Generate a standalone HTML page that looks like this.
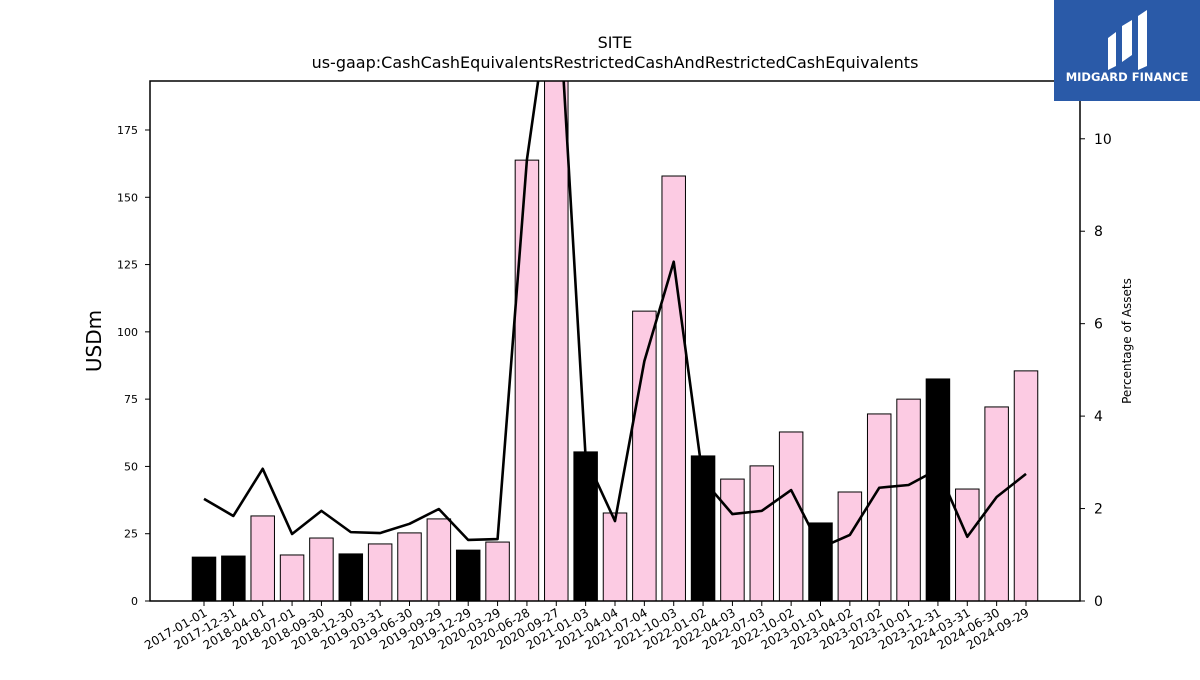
<!DOCTYPE html>
<html><head><meta charset="utf-8"><style>
body{margin:0;background:#fff;width:1200px;height:675px;overflow:hidden;font-family:"Liberation Sans","DejaVu Sans",sans-serif}
</style></head><body>
<svg id="chart" width="1200" height="675" xmlns="http://www.w3.org/2000/svg" font-family="DejaVu Sans, Liberation Sans, sans-serif">
<text x="615" y="48" text-anchor="middle" font-size="16">SITE</text>
<text x="615" y="68" text-anchor="middle" font-size="16">us-gaap:CashCashEquivalentsRestrictedCashAndRestrictedCashEquivalents</text>
<g id="plot"></g>
<rect x="150" y="81" width="930" height="520" fill="none" stroke="#000" stroke-width="1.5"/>
<text transform="translate(101,341) rotate(-90)" text-anchor="middle" font-size="20">USDm</text>
<text transform="translate(1131,341) rotate(-90)" text-anchor="middle" font-size="12">Percentage of Assets</text>
<g>
<rect x="1054" y="0" width="146" height="101" fill="#2a5aa8"/>
<path d="M1108 38 L1116 32 L1116 66 L1108 70 Z M1122 26 L1132 20 L1132 55 L1122 62 Z M1138 16 L1147 10 L1147 66 L1138 70 Z" fill="#fff"/>
<text x="1127" y="81" text-anchor="middle" font-size="11.5" font-weight="bold" fill="#fff">MIDGARD FINANCE</text>
</g>
</svg>
<script>
const categories=["2017-01-01","2017-12-31","2018-04-01","2018-07-01","2018-09-30","2018-12-30","2019-03-31","2019-06-30","2019-09-29","2019-12-29","2020-03-29","2020-06-28","2020-09-27","2021-01-03","2021-04-04","2021-07-04","2021-10-03","2022-01-02","2022-04-03","2022-07-03","2022-10-02","2023-01-01","2023-04-02","2023-07-02","2023-10-01","2023-12-31","2024-03-31","2024-06-30","2024-09-29"];
const cashValues=[16.3,16.7,31.6,17.1,23.4,17.5,21.2,25.3,30.5,18.9,21.9,163.8,200,55.4,32.7,107.7,157.9,53.9,45.3,50.2,62.8,29.0,40.5,69.5,75.0,82.5,41.6,72.1,85.5];
const yearEnd=[1,1,0,0,0,1,0,0,0,1,0,0,0,1,0,0,0,1,0,0,0,1,0,0,0,1,0,0,0];
const pctValues=[2.21,1.84,2.86,1.45,1.95,1.49,1.47,1.67,1.99,1.32,1.34,9.55,14,3.1,1.73,5.19,7.34,2.62,1.88,1.95,2.4,1.15,1.43,2.45,2.51,2.85,1.39,2.25,2.75];
const leftTicks=[0,25,50,75,100,125,150,175];
const rightTicks=[0,2,4,6,8,10];
const NS="http://www.w3.org/2000/svg";
const X0=150,X1=1080,Y0=601,Y1=81,LMAX=193.2,RMAX=11.25;
const x=i=>204+i*(1026-204)/(categories.length-1);
const yl=v=>Y0-(v/LMAX)*(Y0-Y1);
const yr=v=>Y0-(v/RMAX)*(Y0-Y1);
const g=document.getElementById('plot');
function mk(t,a){const e=document.createElementNS(NS,t);for(const k in a)e.setAttribute(k,a[k]);return e;}
const defs=mk('defs',{});const cp=mk('clipPath',{id:'clip'});cp.appendChild(mk('rect',{x:X0,y:Y1,width:X1-X0,height:Y0-Y1}));defs.appendChild(cp);g.appendChild(defs);
const bw=23.5;
const pinkG=mk('g',{'clip-path':'url(#clip)'}),blackG=mk('g',{'clip-path':'url(#clip)'}),lineG=mk('g',{'clip-path':'url(#clip)'});
g.appendChild(pinkG);g.appendChild(lineG);g.appendChild(blackG);
cashValues.forEach((v,i)=>{
 const top=Math.max(yl(v),Y1-5);
 const r=mk('rect',{x:x(i)-bw/2,y:top,width:bw,height:Y0-top,fill:yearEnd[i]?'#000':'#fccbe3',stroke:'#000','stroke-width':1});
 
 
 (yearEnd[i]?blackG:pinkG).appendChild(r);
});
const pl=mk('polyline',{points:pctValues.map((v,i)=>x(i)+','+yr(v)).join(' '),fill:'none',stroke:'#000','stroke-width':2.6,'stroke-linejoin':'round'});


lineG.appendChild(pl);
leftTicks.forEach(t=>{
 const y=yl(t);
 g.appendChild(mk('line',{x1:X0-5,x2:X0,y1:y,y2:y,stroke:'#000'}));
 const tx=mk('text',{x:X0-12,y:y+4,'text-anchor':'end','font-size':11});tx.textContent=t;
 
 
 g.appendChild(tx);
});
rightTicks.forEach(t=>{
 const y=yr(t);
 g.appendChild(mk('line',{x1:X1,x2:X1+5,y1:y,y2:y,stroke:'#000'}));
 const tx=mk('text',{x:X1+14,y:y+5,'font-size':14});tx.textContent=t;
 
 
 g.appendChild(tx);
});
categories.forEach((c,i)=>{
 const xi=x(i);
 g.appendChild(mk('line',{x1:xi,x2:xi,y1:Y0,y2:Y0+5,stroke:'#000'}));
 const tx=mk('text',{transform:`translate(${xi+4},${Y0+14}) rotate(-30)`,'text-anchor':'end','font-size':12});tx.textContent=c;
 
 
 g.appendChild(tx);
});
</script>
</body></html>
